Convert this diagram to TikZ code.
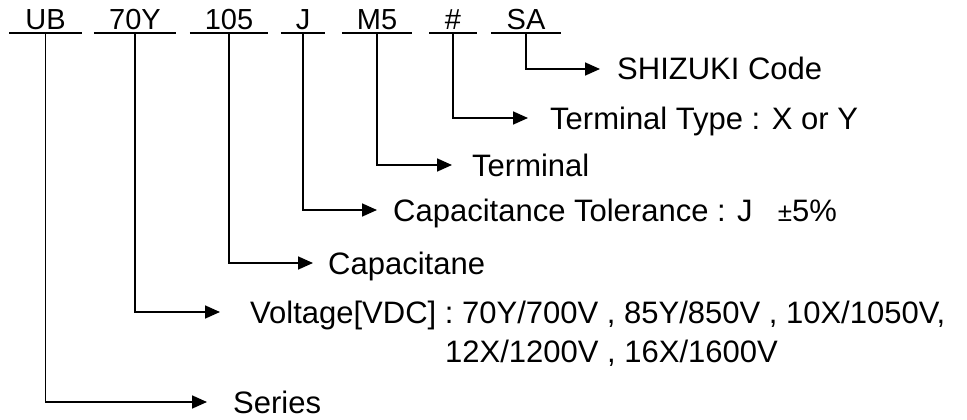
\documentclass[tikz,border=0pt]{standalone}
\usepackage{fontspec}
\setmainfont{Liberation Sans}
\usetikzlibrary{arrows.meta}
\begin{document}
\begin{tikzpicture}[x=1pt, y=-1pt,
    >={Triangle[length=15pt, width=13pt]},
    code/.style={anchor=base, inner sep=0pt, text depth=3pt,
      font=\fontsize{29}{33}\selectfont},
    lbl/.style={anchor=west, inner sep=0pt, text height=22pt, text depth=0pt,
      font=\fontsize{31}{36}\selectfont},
    lead/.style={->, line width=1.7pt}]

    \useasboundingbox (0,0) rectangle (967,420);

    % Type code
    \node[code, minimum width=72pt] (ub)  at ( 45.5,30) {UB};
    \node[code, minimum width=82pt] (vy)  at (135,30)   {70Y};
    \node[code, minimum width=78pt] (cp)  at (229,30)   {105};
    \node[code, minimum width=44pt] (tl)  at (303,30)   {J};
    \node[code, minimum width=70pt] (tm)  at (377,30)   {M5};
    \node[code, minimum width=47pt] (tt)  at (453,30)   {\#};
    \node[code, minimum width=69pt] (sz)  at (526,30)   {SA};

    \foreach \n in {ub,vy,cp,tl,tm,tt,sz}
      \draw[line width=1.7pt] (\n.south west) -- (\n.south east);

    % Meaning
    \node[lbl] (code)   at (617, 69) {SHIZUKI Code};
    \node[lbl] (ttype)  at (550,118) {Terminal Type : X or Y};
    \node[lbl] (term)   at (472,165) {Terminal};
    \node[lbl] (tol)    at (393,210) {Capacitance Tolerance : J\hspace{25pt}{\fontsize{26}{30}\selectfont\char"00B1}5\%};
    \node[lbl] (cap)    at (328,263) {Capacitane};
    \node[lbl] (volt)   at (250,312) {Voltage[VDC] : 70Y/700V , 85Y/850V , 10X/1050V,};
    \node[lbl] (volt2)  at (445,351) {12X/1200V , 16X/1600V};
    \node[lbl] (series) at (233,402) {Series};

    % Leaders
    \draw[lead, shorten >=17pt] (sz.south) |- (code.west);
    \draw[lead, shorten >=22pt] (tt.south) |- (ttype.west);
    \draw[lead, shorten >=20pt] (tm.south) |- (term.west);
    \draw[lead, shorten >=16pt] (tl.south) |- (tol.west);
    \draw[lead, shorten >=15pt] (cp.south) |- (cap.west);
    \draw[lead, shorten >=30pt] (vy.south) |- (volt.west);
    \draw[lead, shorten >=26pt] (ub.south) |- (series.west);

\end{tikzpicture}
\end{document}
